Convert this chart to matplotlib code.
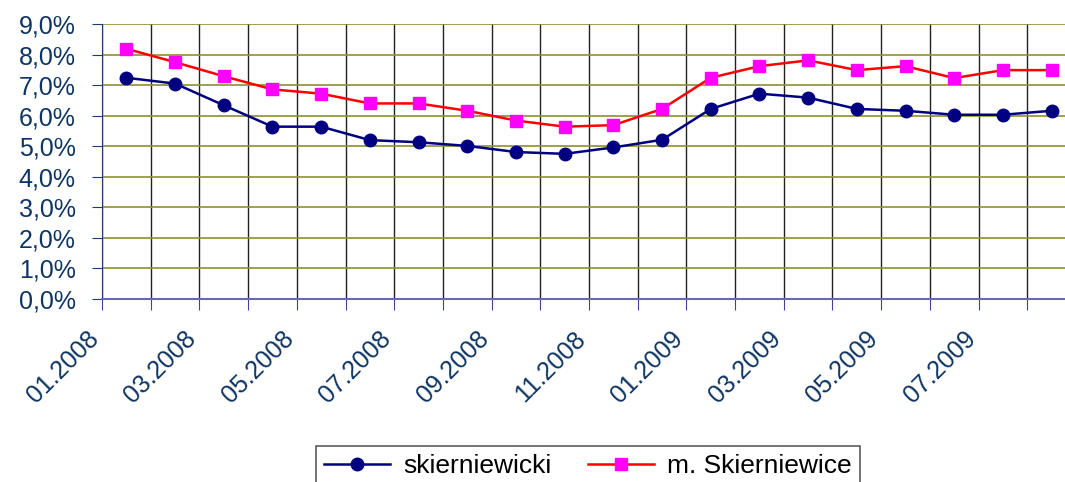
import matplotlib.pyplot as plt
from matplotlib.ticker import FuncFormatter, FixedLocator
from matplotlib.transforms import ScaledTranslation

plt.rcParams['font.family'] = ['Liberation Sans', 'DejaVu Sans']

# dane miesieczne 01.2008 - 08.2009
months = ['01.2008', '02.2008', '03.2008', '04.2008', '05.2008', '06.2008', '07.2008',
          '08.2008', '09.2008', '10.2008', '11.2008', '12.2008', '01.2009', '02.2009',
          '03.2009', '04.2009', '05.2009', '06.2009', '07.2009', '08.2009']
powiat = [7.24, 7.05, 6.34, 5.64, 5.64, 5.20, 5.13, 5.01, 4.81, 4.75,
          4.96, 5.21, 6.22, 6.72, 6.59, 6.22, 6.16, 6.03, 6.03, 6.16]
miasto = [8.19, 7.75, 7.29, 6.86, 6.72, 6.40, 6.40, 6.16, 5.84, 5.64,
          5.69, 6.22, 7.24, 7.62, 7.81, 7.49, 7.62, 7.23, 7.49, 7.49]

txt_color = '#0d3462'

fig = plt.figure(figsize=(10.65, 4.82), dpi=100)
# obszar wykresu wychodzi poza prawa krawedz (przyciety oryginal)
ax = fig.add_axes([0.0958, 0.3797, 0.9145, 0.5705])

x = list(range(len(months)))
ax.plot(x, powiat, color='#000080', lw=1.8, marker='o', ms=9,
        mfc='#000080', mec='#000080', label='skierniewicki', zorder=4)
ax.plot(x, miasto, color='#ff0000', lw=1.8, marker='s', ms=9,
        mfc='#ff00ff', mec='#ff00ff', label='m. Skierniewice', zorder=4)

ax.set_xlim(-0.5, len(months) - 0.5)
ax.set_ylim(0, 9)

# os Y
ax.set_yticks(range(0, 10))
ax.yaxis.set_major_formatter(FuncFormatter(lambda v, p: f'{v:.1f}%'.replace('.', ',')))
ax.tick_params(axis='y', labelsize=18, labelcolor=txt_color, color='#1f3a6e',
               length=7, direction='out', pad=12)
ax.yaxis.grid(True, color='#8f8f30', lw=1.2)

# os X - linie siatki na granicach kategorii, etykiety co drugi miesiac
bounds = [i - 0.5 for i in range(len(months) + 1)]
labels = [months[i] if i < len(months) and i % 2 == 0 else '' for i in range(len(bounds))]
ax.xaxis.set_major_locator(FixedLocator(bounds))
ax.set_xticklabels(labels, rotation=45, ha='right', va='center', rotation_mode='anchor',
                   fontsize=18, color=txt_color)
ax.tick_params(axis='x', length=8, color='#4040a0', direction='out', pad=18)
shift = ScaledTranslation(-5 / 72, 0, fig.dpi_scale_trans)
for lbl in ax.get_xticklabels():
    lbl.set_transform(lbl.get_transform() + shift)
ax.xaxis.grid(True, color='#222222', lw=1.0)
ax.set_axisbelow(True)

for s in ['top', 'right']:
    ax.spines[s].set_visible(False)
ax.spines['left'].set_color('#1f3a6e')
ax.spines['bottom'].set_color('#6a6ab0')
ax.spines['bottom'].set_linewidth(1.5)

leg = fig.legend(loc='upper center', bbox_to_anchor=(0.552, 0.074), ncol=2,
                 fontsize=19, frameon=True, fancybox=False, edgecolor='#333333',
                 handlelength=2.5, columnspacing=1.4, handletextpad=0.5,
                 borderpad=0.3, borderaxespad=0)
leg.get_frame().set_linewidth(1.2)

plt.savefig('out.png', dpi=100)
